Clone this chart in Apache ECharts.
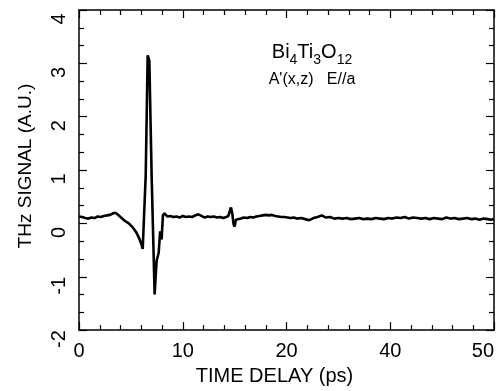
<!DOCTYPE html>
<html>
<head>
<meta charset="utf-8">
<script src="https://cdn.jsdelivr.net/npm/echarts@6/dist/echarts.min.js"></script>
<style>
  html, body { margin: 0; padding: 0; background: #fff; }
</style>
</head>
<body>
<div id="thz" style="width: 497px; height: 391px;"></div>
<script>
// time delay (axis units) and THz signal
const timeDelay = [
  0.0, 0.3, 0.6, 0.9, 1.2, 1.5, 1.8, 2.1, 2.4, 2.7, 3.0, 3.3, 3.5, 3.7, 4.0, 4.4, 4.8, 5.2, 5.5, 5.8, 6.0, 6.14, 6.24,
  6.43, 6.62, 6.70, 6.78, 7.0, 7.29, 7.48, 7.68, 7.82, 7.96, 8.09, 8.25,
  8.5, 8.8, 9.1, 9.4, 9.7, 10.0, 10.3, 10.6, 10.9, 11.2, 11.5, 11.8, 12.1, 12.4, 12.7, 13.0, 13.3, 13.6, 13.9, 14.2,
  14.4, 14.55, 14.65, 14.78, 14.9, 15.0, 15.12, 15.3,
  15.6, 15.9, 16.2, 16.5, 16.8, 17.1, 17.4, 17.7, 18.0, 18.3, 18.6, 18.9, 19.2, 19.5, 19.8, 20.1, 20.4, 20.7,
  21.0, 21.4, 21.8, 22.2, 22.6, 23.0, 23.4, 23.8, 24.2, 24.6, 25.0, 25.4, 25.8, 26.2, 26.6, 27.0, 27.4, 27.8,
  28.2, 28.6, 29.0, 29.4, 29.8, 30.2, 30.6, 31.0, 31.4, 31.8, 32.2, 32.6, 33.0, 33.4, 33.8, 34.2, 34.6, 35.0,
  35.4, 35.8, 36.2, 36.6, 37.0, 37.4, 37.8, 38.2, 38.6, 39.0, 39.4, 39.7, 40.0
];
const thzSignal = [
  0.13, 0.12, 0.10, 0.09, 0.11, 0.10, 0.13, 0.12, 0.14, 0.15, 0.16, 0.19, 0.20, 0.17, 0.12, 0.05, 0.00, -0.08, -0.16, -0.28, -0.38, -0.48, -0.51,
  0.90, 3.15, 3.18, 3.05, 0.90, -1.33, -0.70, -0.55, -0.15, -0.30, 0.15, 0.19,
  0.13, 0.14, 0.12, 0.13, 0.11, 0.14, 0.12, 0.13, 0.12, 0.15, 0.17, 0.14, 0.11, 0.13, 0.12, 0.13, 0.11, 0.12, 0.10, 0.12,
  0.14, 0.24, 0.30, 0.18, -0.02, -0.06, 0.07, 0.10,
  0.09, 0.11, 0.10, 0.12, 0.11, 0.13, 0.14, 0.15, 0.16, 0.15, 0.16, 0.14, 0.13, 0.12, 0.12, 0.11, 0.10, 0.11,
  0.09, 0.10, 0.08, 0.06, 0.10, 0.12, 0.15, 0.11, 0.12, 0.09, 0.10, 0.09, 0.10, 0.08, 0.09, 0.10, 0.08, 0.09,
  0.08, 0.10, 0.09, 0.08, 0.10, 0.09, 0.11, 0.10, 0.12, 0.09, 0.11, 0.10, 0.09, 0.10, 0.08, 0.10, 0.09, 0.08,
  0.11, 0.09, 0.10, 0.08, 0.09, 0.10, 0.08, 0.09, 0.07, 0.09, 0.08, 0.07, 0.08
];
// labels printed under the major x ticks
const xTickLabels = ['0', '10', '20', '40', '50'];

const font = 'Liberation Sans';
const tickStyle = { color: '#000', width: 1.2 };
const frameLine = { show: true, onZero: false, lineStyle: { color: '#000', width: 1.5 } };

let chart = echarts.init(document.getElementById('thz'));
let options = {
  animation: false,
  backgroundColor: '#fff',
  textStyle: { fontFamily: font, color: '#000' },
  title: {
    text: '{m|Bi}{s|4}{m|Ti}{s|3}{m|O}{s|12}',
    subtext: "A'(x,z)   E//a",
    left: 307,
    top: 37,
    textAlign: 'center',
    itemGap: 5,
    textStyle: {
      fontWeight: 'normal',
      rich: {
        m: { fontFamily: font, fontSize: 20, fontWeight: 'normal', color: '#000', verticalAlign: 'bottom', padding: [0, 0, 5, 0] },
        s: { fontFamily: font, fontSize: 14, fontWeight: 'normal', color: '#000', verticalAlign: 'bottom' }
      }
    },
    subtextStyle: { fontFamily: font, fontSize: 16, color: '#000', padding: [0, 12, 0, 0] }
  },
  grid: { left: 79, right: 1, top: 10, bottom: 51 },
  xAxis: [
    {
      type: 'value', min: 0, max: 40, interval: 10,
      name: 'TIME DELAY (ps)', nameLocation: 'middle', nameGap: 26,
      nameTextStyle: { fontFamily: font, fontSize: 20, color: '#000', padding: [0, 24, 0, 0] },
      axisLine: frameLine,
      axisTick: { inside: true, length: 8, lineStyle: tickStyle },
      minorTick: { show: true, splitNumber: 5, length: 5, lineStyle: tickStyle },
      axisLabel: {
        fontFamily: font, fontSize: 20, color: '#000', margin: 11, alignMaxLabel: 'right',
        formatter: function (v) { return xTickLabels[v / 10]; }
      },
      splitLine: { show: false }
    },
    {
      type: 'value', position: 'top', min: 0, max: 40, interval: 10,
      axisLine: frameLine,
      axisTick: { inside: true, length: 8, lineStyle: tickStyle },
      minorTick: { show: true, splitNumber: 5, length: 5, lineStyle: tickStyle },
      axisLabel: { show: false },
      splitLine: { show: false }
    }
  ],
  yAxis: [
    {
      type: 'value', min: -2, max: 4, interval: 1,
      name: 'THz SIGNAL (A.U.)', nameLocation: 'middle', nameGap: 44,
      nameTextStyle: { fontFamily: font, fontSize: 19, color: '#000', padding: [0, 0, 0, 8] },
      axisLine: frameLine,
      axisTick: { show: true, inside: true, length: 8, lineStyle: tickStyle },
      minorTick: { show: true, splitNumber: 3, length: 5, lineStyle: tickStyle },
      axisLabel: { fontFamily: font, fontSize: 20, color: '#000', rotate: 90, margin: 10, padding: [0, 18, 0, 0] },
      splitLine: { show: false }
    },
    {
      type: 'value', position: 'right', min: -2, max: 4, interval: 1,
      axisLine: frameLine,
      axisTick: { show: true, inside: true, length: 8, lineStyle: tickStyle },
      minorTick: { show: true, splitNumber: 3, length: 5, lineStyle: tickStyle },
      axisLabel: { show: false },
      splitLine: { show: false }
    }
  ],
  series: [
    {
      type: 'line',
      xAxisIndex: 0,
      yAxisIndex: 0,
      showSymbol: false,
      lineStyle: { color: '#000', width: 2.6 },
      data: timeDelay.map(function (t, i) { return [t, thzSignal[i]]; })
    }
  ]
};
chart.setOption(options);
window.addEventListener('resize', function () {
  chart.resize();
});
</script>
</body>
</html>
